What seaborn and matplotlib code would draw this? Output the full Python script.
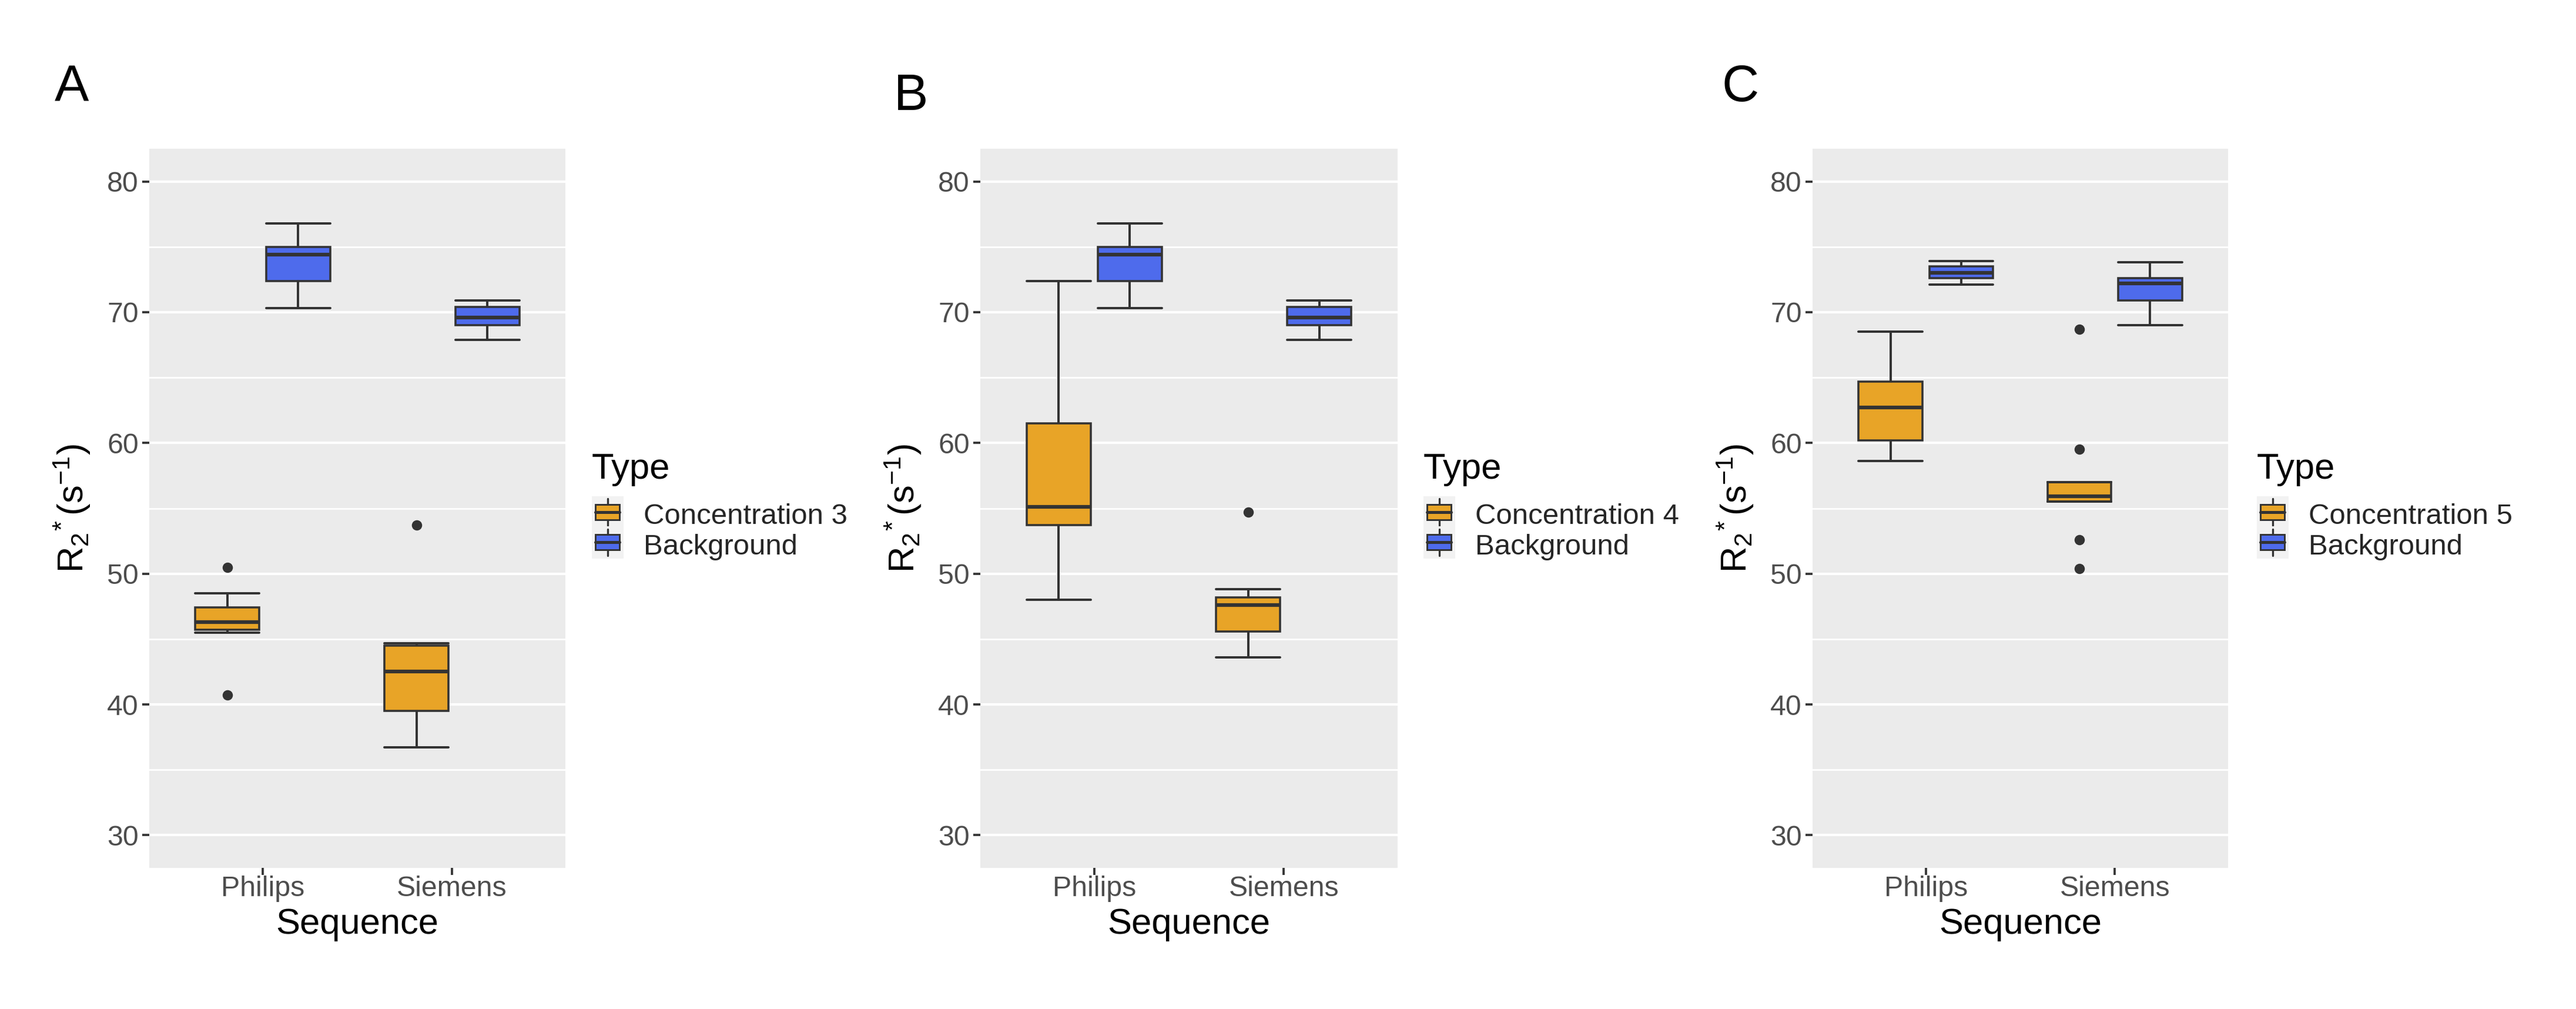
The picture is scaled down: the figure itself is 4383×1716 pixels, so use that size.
import numpy as np
import pandas as pd
import matplotlib
matplotlib.use("Agg")
import matplotlib.pyplot as plt
import seaborn as sns
from matplotlib.legend_handler import HandlerBase
from matplotlib.patches import Rectangle, Patch
from matplotlib.lines import Line2D
from matplotlib.ticker import MultipleLocator

# ---------------- data ----------------
sequences = ["Philips", "Siemens"]
conc_labels = ["Concentration 3", "Concentration 4", "Concentration 5"]
background_label = "Background"
panel_letters = ["A", "B", "C"]
y_ticks = [30, 40, 50, 60, 70, 80]

# Panel A
a_philips_conc = [40.7, 45.5, 45.7, 46.0, 46.3, 46.8, 47.4, 48.5, 50.5]
a_siemens_conc = [36.7, 38.0, 39.5, 41.0, 42.5, 44.0, 44.5, 44.7, 53.7]
a_philips_bg = [70.3, 71.5, 72.4, 73.5, 74.4, 74.7, 75.0, 76.0, 76.8]
a_siemens_bg = [67.9, 68.5, 69.0, 69.3, 69.6, 70.0, 70.4, 70.7, 70.9]
# Panel B
b_philips_conc = [48.0, 51.0, 53.7, 54.5, 55.1, 58.0, 61.5, 66.0, 72.4]
b_siemens_conc = [43.6, 44.5, 45.6, 46.8, 47.6, 48.0, 48.2, 48.8, 54.7]
b_philips_bg = [70.3, 71.5, 72.4, 73.5, 74.4, 74.7, 75.0, 76.0, 76.8]
b_siemens_bg = [67.9, 68.5, 69.0, 69.3, 69.6, 70.0, 70.4, 70.7, 70.9]
# Panel C
c_philips_conc = [58.6, 59.5, 60.2, 61.5, 62.7, 63.5, 64.7, 66.5, 68.5]
c_siemens_conc = [50.4, 52.6, 55.5, 55.7, 55.9, 56.4, 57.0, 59.5, 68.7]
c_philips_bg = [72.1, 72.3, 72.6, 72.8, 73.0, 73.2, 73.5, 73.7, 73.9]
c_siemens_bg = [69.0, 70.0, 70.9, 71.6, 72.2, 72.4, 72.6, 73.2, 73.8]

panel_data = [
    (a_philips_conc, a_siemens_conc, a_philips_bg, a_siemens_bg),
    (b_philips_conc, b_siemens_conc, b_philips_bg, b_siemens_bg),
    (c_philips_conc, c_siemens_conc, c_philips_bg, c_siemens_bg),
]

ORANGE = "#E8A427"
BLUE = "#4E6BEC"
LINE = "#333333"

# ---------------- style ----------------
sns.set_style("darkgrid")
plt.rcParams["font.family"] = ["Liberation Sans", "DejaVu Sans"]
plt.rcParams["mathtext.fontset"] = "custom"
plt.rcParams["mathtext.rm"] = "Liberation Sans"
plt.rcParams["mathtext.it"] = "Liberation Sans:italic"
plt.rcParams["mathtext.bf"] = "Liberation Sans:bold"

W, H, DPI = 4383, 1716, 300
fig = plt.figure(figsize=(W / DPI, H / DPI), dpi=DPI)
fig.patch.set_facecolor("white")

TICK_FS = 11.6
TITLE_FS = 14.75
LEG_FS = 11.8

axes_px = [(254, 962), (1668, 2378), (3084, 3791)]
top_px, bottom_px = 253, 1476
legend_x = [1007, 2422, 3840]
legend_title_base = 814
legend_keys_top = 851
letter_pos = [(93, 172), (1521, 187), (2929, 172)]


class BoxKeyHandler(HandlerBase):
    def create_artists(self, legend, orig_handle, xdescent, ydescent,
                       width, height, fontsize, trans):
        fc = orig_handle.get_facecolor()
        x0, y0 = -xdescent, -ydescent
        full_h = height + ydescent
        bg = Rectangle((x0, y0), width, full_h, facecolor="#F2F2F2",
                       edgecolor="none", transform=trans)
        bx0 = x0 + width * 0.12
        bw = width * 0.74
        by0 = y0 + full_h * 0.27
        bh = full_h * 0.47
        cx = x0 + width / 2
        w1 = Line2D([cx, cx], [y0 + full_h * 0.08, by0], color=LINE, lw=0.8,
                    transform=trans)
        w2 = Line2D([cx, cx], [by0 + bh, y0 + full_h * 0.92], color=LINE,
                    lw=0.8, transform=trans)
        box = Rectangle((bx0, by0), bw, bh, facecolor=fc, edgecolor=LINE,
                        lw=0.7, transform=trans)
        med = Line2D([bx0, bx0 + bw], [by0 + bh / 2] * 2, color=LINE, lw=1.2,
                     transform=trans)
        return [bg, w1, w2, box, med]


ylabel = r"$\mathregular{R_2{}^{*}\,(s^{-1})}$"

for i, (lx, rx) in enumerate(axes_px):
    ax = fig.add_axes([lx / W, 1 - bottom_px / H, (rx - lx) / W,
                       (bottom_px - top_px) / H])
    ax.set_facecolor("#EBEBEB")
    p_conc, s_conc, p_bg, s_bg = panel_data[i]
    conc = conc_labels[i]
    rows = []
    for v in p_conc:
        rows.append(("Philips", conc, v))
    for v in s_conc:
        rows.append(("Siemens", conc, v))
    for v in p_bg:
        rows.append(("Philips", background_label, v))
    for v in s_bg:
        rows.append(("Siemens", background_label, v))
    df = pd.DataFrame(rows, columns=["Sequence", "Type", "R2"])

    sns.boxplot(
        data=df, x="Sequence", y="R2", hue="Type",
        order=sequences, hue_order=[conc, background_label],
        palette=[ORANGE, BLUE], saturation=1, width=0.75, gap=0.1,
        dodge=True, linecolor=LINE, linewidth=0.85, legend=False,
        capwidths=0.3375,
        medianprops=dict(linewidth=1.5, color=LINE),
        whiskerprops=dict(linewidth=0.95, color=LINE),
        capprops=dict(linewidth=0.95, color=LINE),
        flierprops=dict(marker="o", markersize=3.2, markerfacecolor=LINE,
                        markeredgecolor=LINE),
        ax=ax,
    )

    ax.set_xlim(-0.6, 1.6)
    ax.set_ylim(27.5, 82.5)
    ax.set_yticks(y_ticks)
    ax.set_yticklabels([str(t) for t in y_ticks])
    ax.yaxis.set_minor_locator(MultipleLocator(5))
    ax.grid(False)
    ax.yaxis.grid(True, which="major", color="white", linewidth=1.0)
    ax.yaxis.grid(True, which="minor", color="white", linewidth=0.65)
    ax.set_axisbelow(True)
    for sp in ax.spines.values():
        sp.set_visible(False)
    ax.tick_params(axis="both", which="major", length=2.9, width=0.9,
                   color=LINE, labelcolor="#4D4D4D", labelsize=TICK_FS,
                   left=True, bottom=True)
    ax.tick_params(axis="y", which="major", pad=1.5)
    ax.tick_params(axis="x", which="major", pad=0.3)
    ax.tick_params(axis="both", which="minor", length=0)
    ax.set_xlabel("Sequence", fontsize=TITLE_FS, color="black", labelpad=2.3)
    ax.set_ylabel(ylabel, fontsize=TITLE_FS, color="black", labelpad=6)

    # legend: title as text, keys as a frameless legend
    fig.text(legend_x[i] / W, 1 - legend_title_base / H, "Type",
             fontsize=TITLE_FS, ha="left", va="baseline", color="black")
    handles = [Patch(facecolor=ORANGE), Patch(facecolor=BLUE)]
    fig.legend(
        handles, [conc, background_label],
        loc="upper left",
        bbox_to_anchor=(legend_x[i] / W, 1 - legend_keys_top / H),
        frameon=False, fontsize=LEG_FS,
        handlelength=1.1, handleheight=1.1, handletextpad=0.69,
        labelspacing=0.02, borderpad=0, borderaxespad=0,
        handler_map={Patch: BoxKeyHandler()},
    )

    fx, fy = letter_pos[i]
    fig.text(fx / W, 1 - fy / H, panel_letters[i], fontsize=21,
             ha="left", va="baseline", color="black")

fig.savefig("out.png", dpi=DPI, facecolor="white")
